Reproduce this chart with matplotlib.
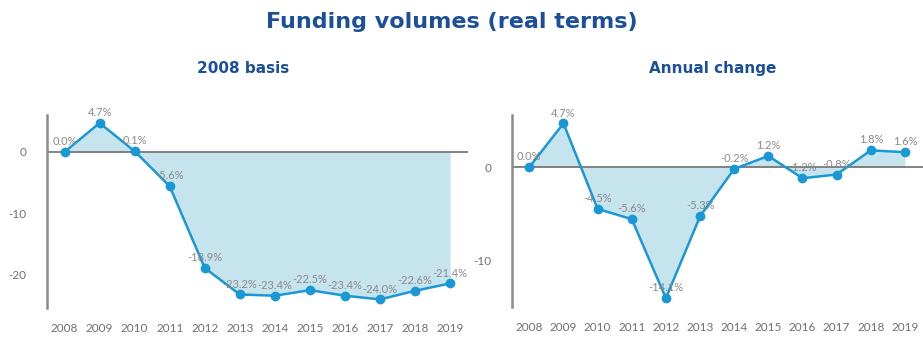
import matplotlib.pyplot as plt
import numpy as np

years = [2008, 2009, 2010, 2011, 2012, 2013, 2014, 2015, 2016, 2017, 2018, 2019]
basis_2008 = [0.0, 4.7, 0.1, -5.6, -18.9, -23.2, -23.4, -22.5, -23.4, -24.0, -22.6, -21.4]
annual_change = [0.0, 4.7, -4.5, -5.6, -14.1, -5.3, -0.2, 1.2, -1.2, -0.8, 1.8, 1.6]

line_col = '#1a98d5'
fill_col = '#c6e4ed'
title_col = '#1c4f99'

plt.rcParams['font.family'] = ['Lato', 'DejaVu Sans']

fig = plt.figure(figsize=(9.23, 3.42), dpi=100)

ax1 = fig.add_axes([0.051, 0.0994, 0.456, 0.5643])
ax2 = fig.add_axes([0.555, 0.1023, 0.445, 0.5614])


def draw(ax, vals, ylim, yticks, xright):
    x = np.array(years)
    v = np.array(vals)
    ax.fill_between(x, v, 0, color=fill_col, linewidth=0, zorder=1)
    ax.axhline(0, color='#6e6e6e', linewidth=1.2, zorder=2)
    ax.plot(x, v, '-o', color=line_col, linewidth=1.8, markersize=6, zorder=3)
    for xi, vi in zip(x, v):
        ax.annotate('%.1f%%' % vi, (xi, vi), xytext=(0, 3.5), textcoords='offset points',
                    ha='center', va='bottom', fontsize=8, color='#8a8a8a', zorder=4)
    ax.set_xlim(2007.5, xright)
    ax.set_ylim(*ylim)
    ax.set_yticks(yticks)
    ax.set_yticklabels([str(t) for t in yticks])
    ax.set_xticks(years)
    ax.set_xticklabels([str(y) for y in years])
    for s in ['top', 'right', 'bottom']:
        ax.spines[s].set_visible(False)
    ax.spines['left'].set_color('#8c8c8c')
    ax.spines['left'].set_linewidth(1.8)
    ax.tick_params(axis='both', length=0, labelsize=8.5, colors='#707070')
    ax.tick_params(axis='y', pad=15)
    ax.tick_params(axis='x', pad=11)


draw(ax1, basis_2008, (-25.4, 6.0), [0, -10, -20], 2019.51)
draw(ax2, annual_change, (-15.05, 5.6), [0, -10], 2019.53)

fig.text(0.489, 0.935, 'Funding volumes (real terms)', ha='center', va='center',
         fontsize=16, fontweight='bold', color=title_col, family='DejaVu Sans')
fig.text(0.263, 0.80, '2008 basis', ha='center', va='center',
         fontsize=11, fontweight='bold', color=title_col, family='DejaVu Sans')
fig.text(0.772, 0.80, 'Annual change', ha='center', va='center',
         fontsize=11, fontweight='bold', color=title_col, family='DejaVu Sans')

plt.savefig('out.png', dpi=100)
